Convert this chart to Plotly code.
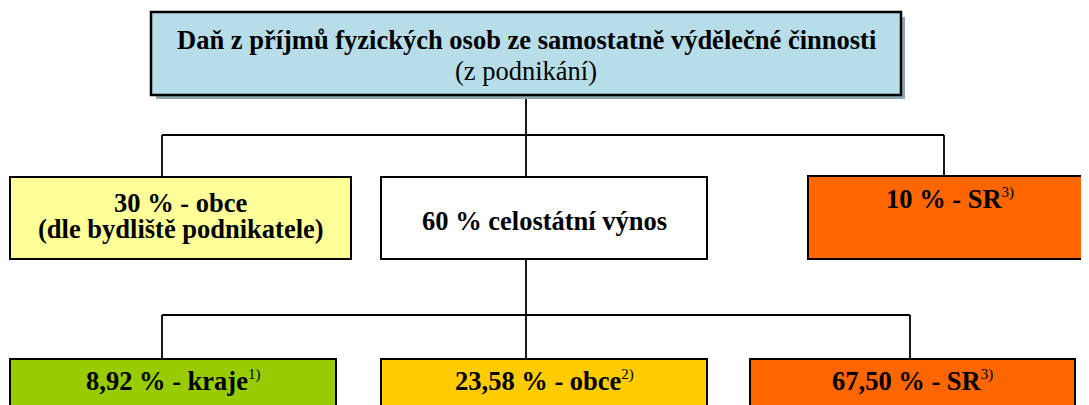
import plotly.graph_objects as go

# ---- data (text content of the diagram) ----
top_title = "Daň z příjmů fyzických osob ze samostatně výdělečné činnosti"
top_subtitle = "(z podnikání)"

level1_shares = ["30 %", "60 %", "10 %"]
level1_recipients = ["- obce", "celostátní výnos", "- SR"]
level1_notes = ["(dle bydliště podnikatele)", "", ""]
level1_footnotes = ["", "", "3)"]

level2_shares = ["8,92 %", "23,58 %", "67,50 %"]
level2_recipients = ["- kraje", "- obce", "- SR"]
level2_footnotes = ["1)", "2)", "3)"]

# ---- layout / style (pixel geometry of boxes) ----
W, H = 1089, 405
OFF = 8  # page body margin compensation
FONT = "Liberation Serif, Times New Roman, serif"
FS = 26.5
SUP = 15

top_box = (151, 12, 901, 95)
level1_boxes = [(10, 177, 351, 259), (381, 177, 707, 259), (808, 176, 1094, 259)]
level1_colors = ["#FFFF99", "#FFFFFF", "#FF6600"]
level1_text_y = [(203, 229), (221, None), (199, None)]

level2_boxes = [(10, 359, 336, 460), (381, 359, 707, 460), (750, 359, 1075, 460)]
level2_colors = ["#99CC00", "#FFCC00", "#FF6600"]
level2_text_y = 381

shapes = []
annotations = []


def rect(box, fill, lw=2):
    x0, y0, x1, y1 = box
    shapes.append(dict(type="rect", xref="x", yref="y", x0=x0, y0=y0, x1=x1, y1=y1,
                       fillcolor=fill, line=dict(color="black", width=lw), layer="above"))


def line(path, lw=1.8):
    shapes.append(dict(type="path", xref="x", yref="y", path=path,
                       line=dict(color="black", width=lw), layer="below"))


def text(x, y, s, size=FS):
    annotations.append(dict(x=x, y=y, xref="x", yref="y", text=s, showarrow=False,
                            xanchor="center", yanchor="middle",
                            font=dict(family=FONT, size=size, color="black")))


def sup(s):
    return f"<sup><span style='font-size:{SUP}px'>{s}</span></sup>"


# connectors
cx = (top_box[0] + top_box[2]) / 2
l1_x = [162, cx, 944]
l2_x = [162, cx, 910]
y_h1, y_h2 = 135, 315
line(f"M {cx},{top_box[3]} V {level1_boxes[1][1]}")
line(f"M {l1_x[0]},{y_h1} H {l1_x[2]}")
line(f"M {l1_x[0]},{y_h1} V {level1_boxes[0][1]}")
line(f"M {l1_x[2]},{y_h1} V {level1_boxes[2][1]}")
line(f"M {cx},{level1_boxes[1][3]} V {level2_boxes[1][1]}")
line(f"M {l2_x[0]},{y_h2} H {l2_x[2]}")
line(f"M {l2_x[0]},{y_h2} V {level2_boxes[0][1]}")
line(f"M {l2_x[2]},{y_h2} V {level2_boxes[2][1]}")

# top box with shadow
sx0, sy0, sx1, sy1 = top_box
shapes.append(dict(type="rect", xref="x", yref="y", x0=sx0 + 5, y0=sy0 + 5, x1=sx1 + 4, y1=sy1 + 4,
                   fillcolor="#8FA9B3", line=dict(width=0), layer="above"))
rect(top_box, "#B7DDE8", 2.5)
text(cx, 40, f"<b>{top_title}</b>")
text(cx, 71, top_subtitle)

# level 1
for i, box in enumerate(level1_boxes):
    rect(box, level1_colors[i])
    bx = (box[0] + box[2]) / 2
    if i == 2:
        bx = 950
    main = f"<b>{level1_shares[i]} {level1_recipients[i]}</b>"
    if level1_footnotes[i]:
        main += sup(level1_footnotes[i])
    y1, y2 = level1_text_y[i]
    text(bx, y1, main)
    if level1_notes[i]:
        text(bx, y2, f"<b>{level1_notes[i]}</b>")

# level 2
for i, box in enumerate(level2_boxes):
    rect(box, level2_colors[i])
    bx = (box[0] + box[2]) / 2
    s = f"<b>{level2_shares[i]} {level2_recipients[i]}</b>" + sup(level2_footnotes[i])
    text(bx, level2_text_y, s)

fig = go.Figure()
fig.update_layout(
    width=W, height=H, margin=dict(l=0, r=0, t=0, b=0),
    paper_bgcolor="white", plot_bgcolor="white",
    xaxis=dict(range=[OFF, W + OFF], visible=False, fixedrange=True),
    yaxis=dict(range=[H + OFF, OFF], visible=False, fixedrange=True),
    shapes=shapes, annotations=annotations, showlegend=False,
)
fig.write_html("out.html")
